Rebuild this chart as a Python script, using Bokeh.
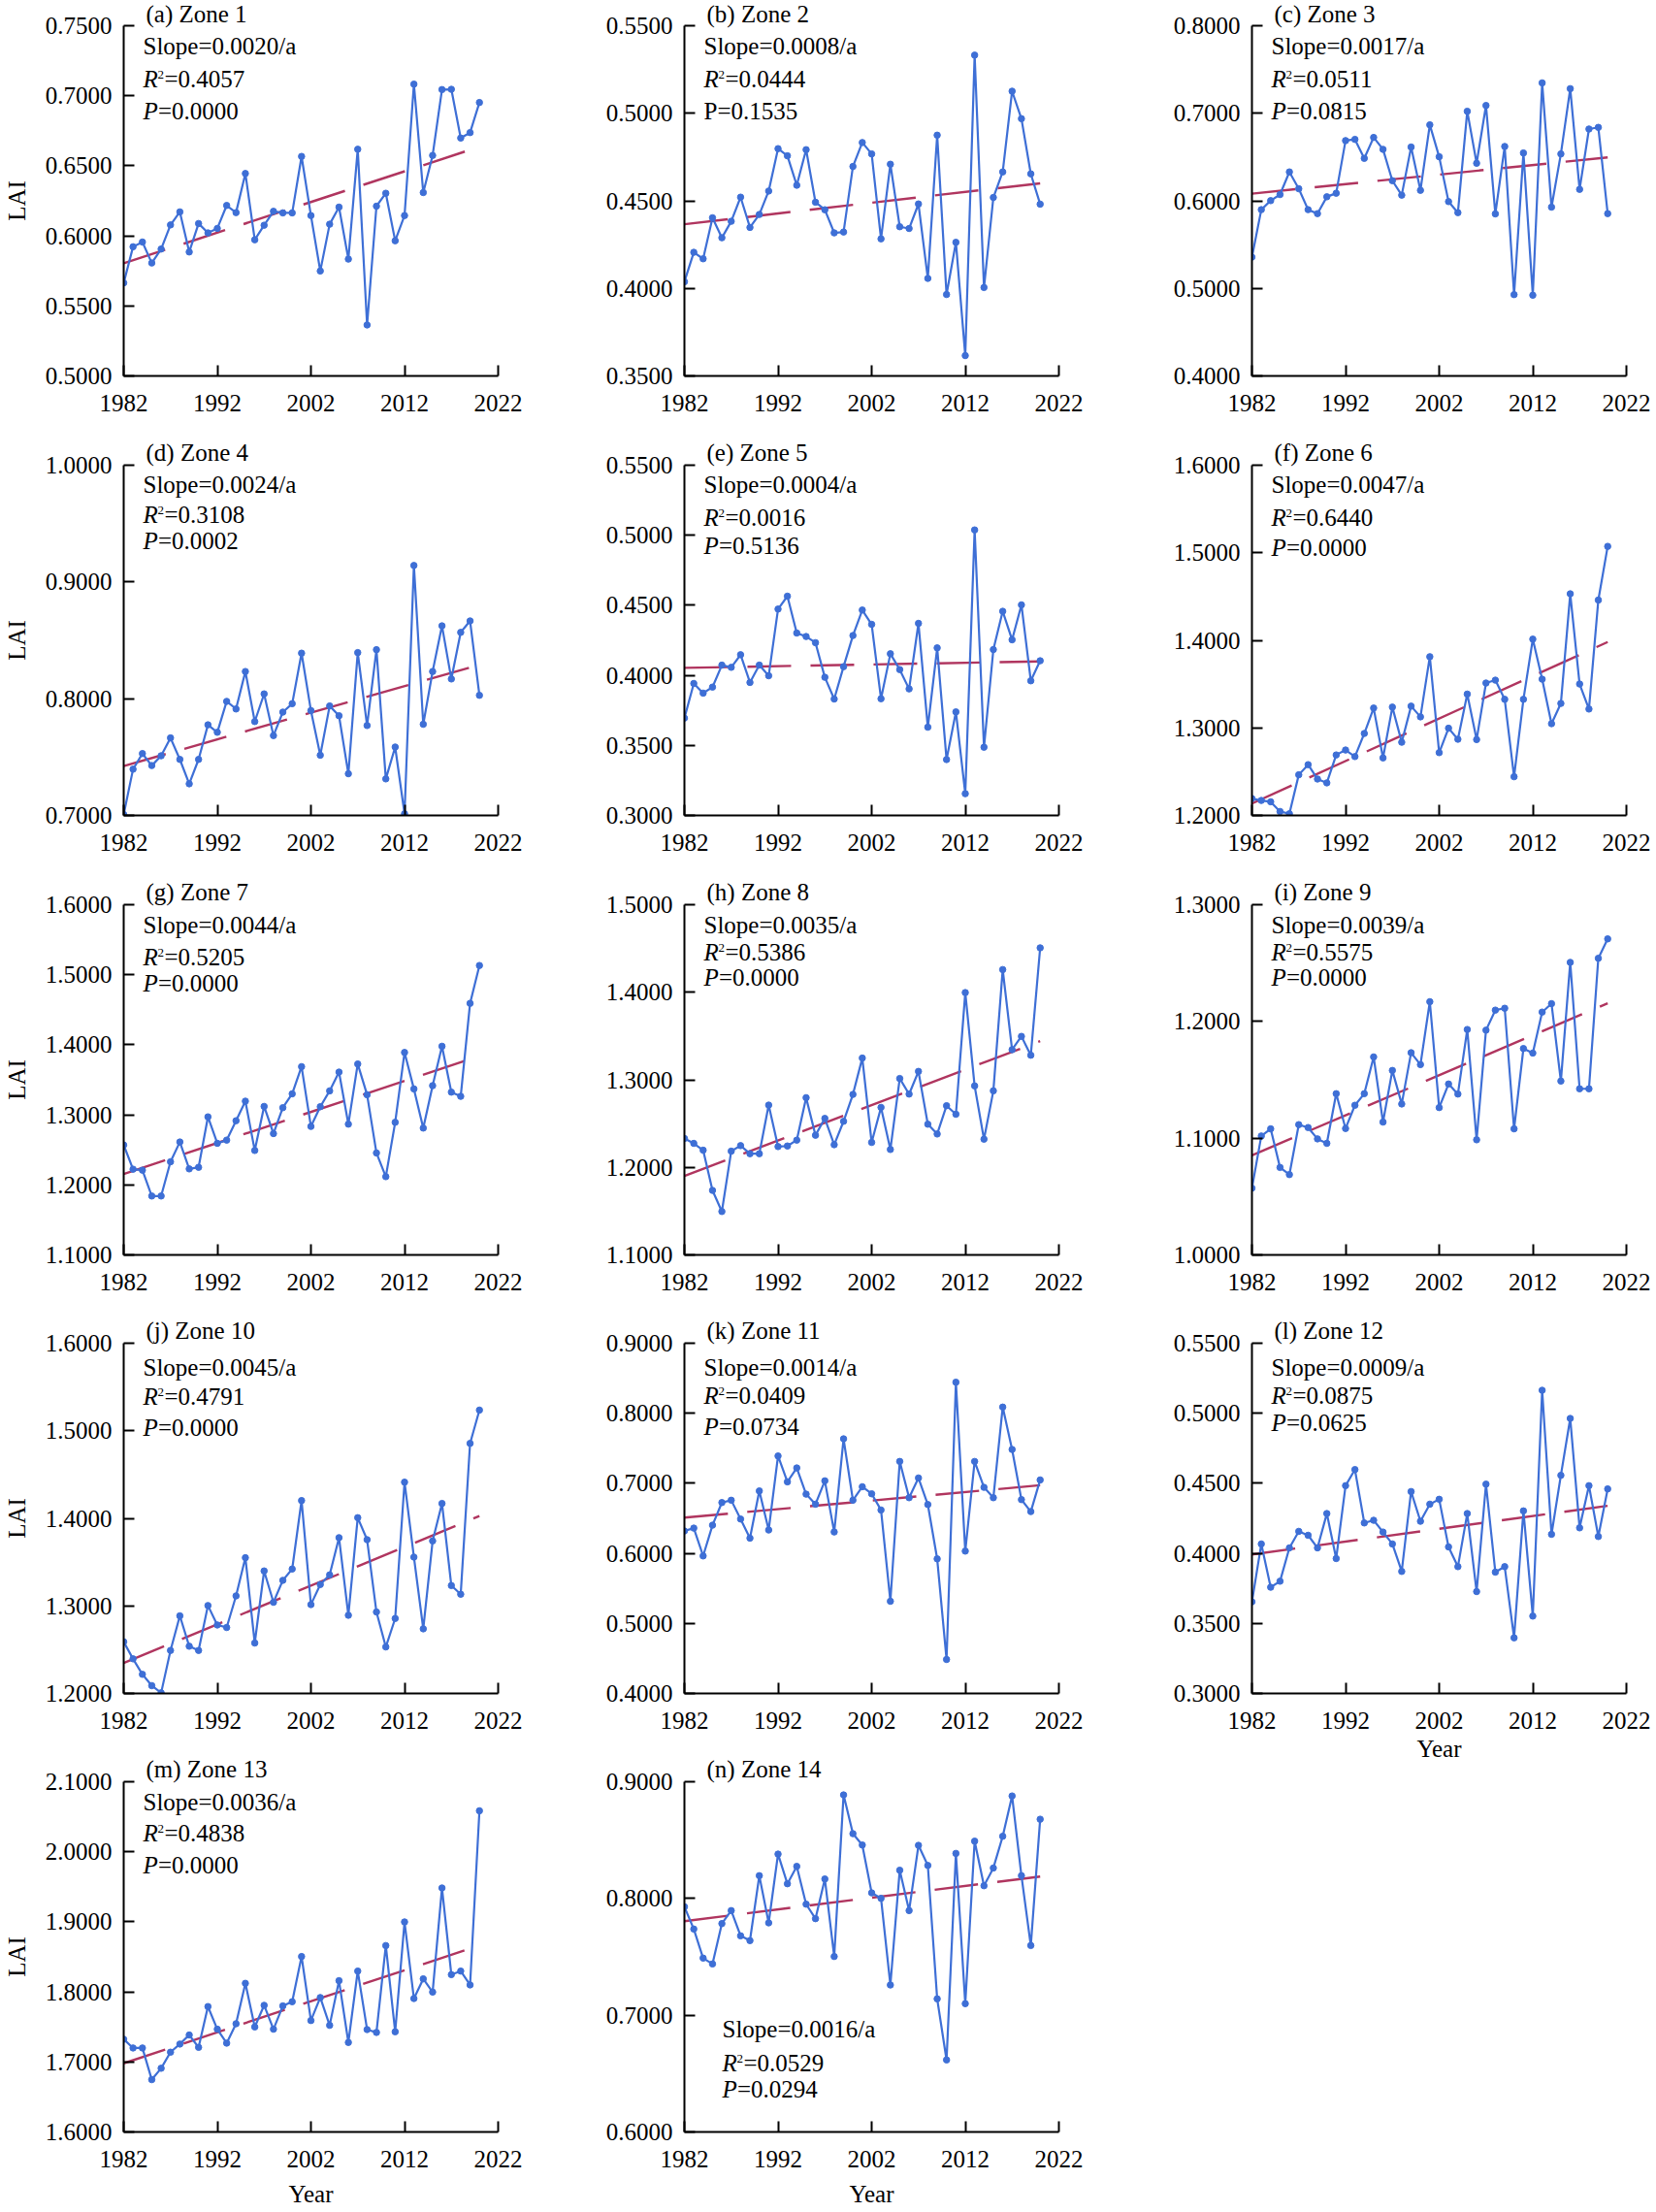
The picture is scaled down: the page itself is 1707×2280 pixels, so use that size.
import numpy as np
from bokeh.plotting import figure
from bokeh.models import Range1d, FixedTicker, PrintfTickFormatter, Label
from bokeh.layouts import row, column
from bokeh.embed import file_html
from bokeh.resources import INLINE

# ---------------- data ----------------
years = list(range(1982, 2021))

lai_zone1 = [0.5664, 0.5922, 0.5956, 0.5806, 0.5906, 0.6078, 0.6171, 0.5885, 0.6088, 0.6021,
             0.6053, 0.6217, 0.6166, 0.6445, 0.5972, 0.6076, 0.6175, 0.6164, 0.6164, 0.6567,
             0.6145, 0.5749, 0.6083, 0.6205, 0.5834, 0.6618, 0.5364, 0.6212, 0.6304, 0.5965,
             0.6145, 0.7083, 0.6309, 0.6574, 0.7044, 0.7046, 0.6698, 0.6737, 0.6952]
lai_zone2 = [0.4038, 0.4206, 0.4169, 0.4403, 0.4289, 0.4383, 0.4521, 0.4348, 0.4422, 0.4556,
             0.4798, 0.4757, 0.4589, 0.4792, 0.4492, 0.4449, 0.4317, 0.4322, 0.4696, 0.4833,
             0.4768, 0.4283, 0.4709, 0.4352, 0.4342, 0.4482, 0.4057, 0.4875, 0.3965, 0.4263,
             0.3616, 0.5332, 0.4005, 0.4519, 0.4665, 0.5126, 0.4969, 0.4654, 0.4481]
lai_zone3 = [0.5357, 0.5899, 0.6002, 0.6072, 0.6330, 0.6138, 0.5899, 0.5854, 0.6046, 0.6087,
             0.6688, 0.6702, 0.6485, 0.6724, 0.6588, 0.6230, 0.6065, 0.6614, 0.6120, 0.6868,
             0.6503, 0.5991, 0.5865, 0.7023, 0.6429, 0.7089, 0.5851, 0.6621, 0.4929, 0.6547,
             0.4922, 0.7347, 0.5928, 0.6536, 0.7281, 0.6131, 0.6820, 0.6839, 0.5854]
lai_zone4 = [0.7008, 0.7396, 0.7530, 0.7427, 0.7511, 0.7664, 0.7480, 0.7271, 0.7480, 0.7776,
             0.7712, 0.7977, 0.7912, 0.8233, 0.7804, 0.8041, 0.7684, 0.7885, 0.7957, 0.8390,
             0.7898, 0.7516, 0.7938, 0.7854, 0.7357, 0.8395, 0.7770, 0.8420, 0.7313, 0.7586,
             0.7014, 0.9141, 0.7781, 0.8233, 0.8624, 0.8169, 0.8568, 0.8666, 0.8029]
lai_zone5 = [0.3695, 0.3942, 0.3873, 0.3916, 0.4073, 0.4057, 0.4147, 0.3949, 0.4073, 0.3997,
             0.4473, 0.4565, 0.4302, 0.4277, 0.4233, 0.3986, 0.3831, 0.4062, 0.4284, 0.4466,
             0.4364, 0.3833, 0.4154, 0.4041, 0.3903, 0.4371, 0.3630, 0.4196, 0.3399, 0.3739,
             0.3155, 0.5038, 0.3487, 0.4184, 0.4457, 0.4254, 0.4503, 0.3961, 0.4104]
lai_zone6 = [1.2193, 1.2171, 1.2156, 1.2045, 1.2019, 1.2464, 1.2580, 1.2416, 1.2372, 1.2691,
             1.2747, 1.2672, 1.2936, 1.3226, 1.2657, 1.3237, 1.2836, 1.3248, 1.3126, 1.3813,
             1.2717, 1.2996, 1.2870, 1.3386, 1.2866, 1.3512, 1.3545, 1.3326, 1.2442, 1.3326,
             1.4013, 1.3556, 1.3048, 1.3279, 1.4531, 1.3501, 1.3215, 1.4460, 1.5073]
lai_zone7 = [1.2570, 1.2224, 1.2210, 1.1841, 1.1841, 1.2330, 1.2612, 1.2228, 1.2251, 1.2971,
             1.2593, 1.2639, 1.2916, 1.3195, 1.2491, 1.3120, 1.2732, 1.3102, 1.3300, 1.3688,
             1.2834, 1.3116, 1.3342, 1.3610, 1.2867, 1.3726, 1.3287, 1.2456, 1.2117, 1.2893,
             1.3890, 1.3370, 1.2811, 1.3416, 1.3979, 1.3324, 1.3264, 1.4592, 1.5132]
lai_zone8 = [1.2330, 1.2274, 1.2196, 1.1737, 1.1496, 1.2185, 1.2248, 1.2156, 1.2156, 1.2711,
             1.2237, 1.2244, 1.2311, 1.2796, 1.2367, 1.2559, 1.2259, 1.2526, 1.2833, 1.3248,
             1.2285, 1.2685, 1.2204, 1.3015, 1.2837, 1.3096, 1.2493, 1.2381, 1.2704, 1.2607,
             1.3996, 1.2930, 1.2322, 1.2874, 1.4259, 1.3344, 1.3496, 1.3281, 1.4507]
lai_zone9 = [1.0572, 1.1019, 1.1080, 1.0749, 1.0688, 1.1116, 1.1091, 1.0994, 1.0956, 1.1381,
             1.1083, 1.1282, 1.1381, 1.1696, 1.1138, 1.1580, 1.1293, 1.1732, 1.1630, 1.2169,
             1.1262, 1.1464, 1.1378, 1.1931, 1.0986, 1.1925, 1.2097, 1.2113, 1.1080, 1.1768,
             1.1729, 1.2080, 1.2152, 1.1489, 1.2506, 1.1423, 1.1423, 1.2541, 1.2707]
lai_zone10 = [1.2590, 1.2395, 1.2218, 1.2089, 1.2007, 1.2491, 1.2886, 1.2539, 1.2491, 1.3004,
              1.2782, 1.2753, 1.3114, 1.3550, 1.2576, 1.3399, 1.3041, 1.3292, 1.3421, 1.4203,
              1.3015, 1.3244, 1.3354, 1.3779, 1.2893, 1.4007, 1.3756, 1.2930, 1.2531, 1.2856,
              1.4413, 1.3557, 1.2738, 1.3742, 1.4170, 1.3232, 1.3133, 1.4856, 1.5236]
lai_zone11 = [0.6319, 0.6360, 0.5963, 0.6402, 0.6725, 0.6758, 0.6490, 0.6217, 0.6891, 0.6333,
              0.7390, 0.7021, 0.7219, 0.6845, 0.6702, 0.7035, 0.6305, 0.7635, 0.6758, 0.6951,
              0.6850, 0.6619, 0.5316, 0.7312, 0.6794, 0.7076, 0.6697, 0.5921, 0.4485, 0.8443,
              0.6032, 0.7312, 0.6942, 0.6794, 0.8088, 0.7483, 0.6767, 0.6596, 0.7048]
lai_zone12 = [0.3654, 0.4067, 0.3758, 0.3801, 0.4039, 0.4157, 0.4129, 0.4039, 0.4284, 0.3963,
              0.4483, 0.4598, 0.4217, 0.4236, 0.4152, 0.4067, 0.3871, 0.4441, 0.4229, 0.4351,
              0.4386, 0.4046, 0.3905, 0.4284, 0.3727, 0.4494, 0.3866, 0.3905, 0.3397, 0.4303,
              0.3552, 0.5164, 0.4136, 0.4557, 0.4963, 0.4182, 0.4483, 0.4120, 0.4460]
lai_zone13 = [1.7324, 1.7199, 1.7199, 1.6747, 1.6909, 1.7139, 1.7255, 1.7384, 1.7208, 1.7790,
              1.7467, 1.7268, 1.7545, 1.8122, 1.7499, 1.7808, 1.7467, 1.7799, 1.7859, 1.8505,
              1.7591, 1.7919, 1.7522, 1.8159, 1.7278, 1.8297, 1.7462, 1.7421, 1.8661, 1.7430,
              1.8998, 1.7905, 1.8186, 1.7997, 1.9483, 1.8246, 1.8297, 1.8099, 2.0585]
lai_zone14 = [0.7929, 0.7738, 0.7489, 0.7439, 0.7785, 0.7896, 0.7680, 0.7639, 0.8195, 0.7791,
              0.8380, 0.8126, 0.8275, 0.7951, 0.7827, 0.8167, 0.7503, 0.8887, 0.8555, 0.8458,
              0.8048, 0.8001, 0.7259, 0.8242, 0.7896, 0.8455, 0.8283, 0.7140, 0.6617, 0.8386,
              0.7099, 0.8491, 0.8109, 0.8261, 0.8533, 0.8878, 0.8195, 0.7597, 0.8679]

zone_titles = ["(a) Zone 1", "(b) Zone 2", "(c) Zone 3", "(d) Zone 4", "(e) Zone 5",
               "(f) Zone 6", "(g) Zone 7", "(h) Zone 8", "(i) Zone 9", "(j) Zone 10",
               "(k) Zone 11", "(l) Zone 12", "(m) Zone 13", "(n) Zone 14"]
slope_text = ["0.0020", "0.0008", "0.0017", "0.0024", "0.0004", "0.0047", "0.0044",
              "0.0035", "0.0039", "0.0045", "0.0014", "0.0009", "0.0036", "0.0016"]
r2_text = ["0.4057", "0.0444", "0.0511", "0.3108", "0.0016", "0.6440", "0.5205",
           "0.5386", "0.5575", "0.4791", "0.0409", "0.0875", "0.4838", "0.0529"]
p_text = ["0.0000", "0.1535", "0.0815", "0.0002", "0.5136", "0.0000", "0.0000",
          "0.0000", "0.0000", "0.0000", "0.0734", "0.0625", "0.0000", "0.0294"]
p_italic = [True, False, True, True, True, True, True, True, True, True, True, True, True, True]

y_min = [0.50, 0.35, 0.40, 0.70, 0.30, 1.20, 1.10, 1.10, 1.00, 1.20, 0.40, 0.30, 1.60, 0.60]
y_max = [0.75, 0.55, 0.80, 1.00, 0.55, 1.60, 1.60, 1.50, 1.30, 1.60, 0.90, 0.55, 2.10, 0.90]
y_step = [0.05, 0.05, 0.10, 0.10, 0.05, 0.10, 0.10, 0.10, 0.10, 0.10, 0.10, 0.05, 0.10, 0.10]

x_ticks = [1982, 1992, 2002, 2012, 2022]

all_series = [lai_zone1, lai_zone2, lai_zone3, lai_zone4, lai_zone5, lai_zone6, lai_zone7,
              lai_zone8, lai_zone9, lai_zone10, lai_zone11, lai_zone12, lai_zone13, lai_zone14]

# ---------------- style / layout ----------------
FONT = "Liberation Serif"
FS = 25
BLUE = "#3E6FD6"
TREND = "#B0355F"
FW, FH = 386, 361
LEFT_BORDER = [126, 118, 118]
RIGHT_BORDER = [74, 81, 32]
# vertical offsets (px below frame top) of Slope / R2 / P lines
stat_offsets = [(23, 57, 90), (23, 57, 90), (23, 57, 90),
                (22, 53, 80), (22, 56, 85), (22, 56, 87),
                (23, 56, 83), (23, 51, 77), (23, 51, 77),
                (27, 57, 89), (27, 56, 88), (27, 56, 84),
                (23, 55, 88), (257, 292, 319)]
STAT_LIFT = 2


def add_text(p, x, y, text, size=FS, style="normal", align="left", baseline="middle"):
    p.add_layout(Label(x=x, y=y, x_units="screen", y_units="screen", text=text,
                       text_font=FONT, text_font_size=f"{size}px",
                       text_font_style=style, text_align=align,
                       text_baseline=baseline, text_color="black"))


def make_panel(i):
    col = i % 3
    r = i // 3
    last_in_col = (i + 3) >= 14
    top = 25 if r == 0 else 37
    if r == 4:
        bottom = 84
    elif last_in_col:
        bottom = 80
    elif r <= 1:
        bottom = 55
    else:
        bottom = 54
    vals = all_series[i]
    p = figure(frame_width=FW, frame_height=FH,
               x_range=Range1d(1982, 2022),
               y_range=Range1d(y_min[i], y_max[i]),
               output_backend="svg", toolbar_location=None,
               min_border_left=LEFT_BORDER[col], min_border_right=RIGHT_BORDER[col],
               min_border_top=top, min_border_bottom=bottom,
               background_fill_color="white", border_fill_color="white")
    p.outline_line_color = None
    p.xgrid.visible = False
    p.ygrid.visible = False

    # panel title above the frame
    p.title.text = zone_titles[i]
    p.title.align = "left"
    p.title.offset = 23
    p.title.standoff = -3 if r == 0 else 0
    p.title.text_font = FONT
    p.title.text_font_size = f"{FS}px"
    p.title.text_font_style = "normal"
    p.title.text_color = "black"

    nt = int(round((y_max[i] - y_min[i]) / y_step[i]))
    yt = [round(y_min[i] + k * y_step[i], 4) for k in range(nt + 1)]
    p.yaxis.ticker = FixedTicker(ticks=yt)
    p.yaxis.formatter = PrintfTickFormatter(format="%.4f")
    p.xaxis.ticker = FixedTicker(ticks=x_ticks)
    for ax in (p.xaxis, p.yaxis):
        ax.axis_line_width = 2
        ax.axis_line_color = "black"
        ax.major_tick_line_width = 2
        ax.major_tick_line_color = "black"
        ax.major_tick_in = 11
        ax.major_tick_out = 0
        ax.minor_tick_in = 0
        ax.minor_tick_out = 0
        ax.major_label_text_font = FONT
        ax.major_label_text_font_size = f"{FS}px"
        ax.major_label_text_color = "black"
        ax.axis_label_text_font = FONT
        ax.axis_label_text_font_size = f"{FS}px"
        ax.axis_label_text_font_style = "normal"
        ax.axis_label_text_color = "black"
    p.xaxis.major_label_standoff = 19
    p.yaxis.major_label_standoff = 12

    if col == 0:
        p.yaxis.axis_label = "LAI"
        p.yaxis.axis_label_standoff = 13
    if i in (11, 12, 13):
        p.xaxis.axis_label = "Year"
        p.xaxis.axis_label_standoff = 4 if i == 11 else 11

    # trend line from least squares fit of the series
    slope, inter = np.polyfit(np.array(years, dtype=float), np.array(vals), 1)
    tx = [years[0], years[-1]]
    ty = [inter + slope * years[0], inter + slope * years[-1]]
    p.line(tx, ty, line_color=TREND, line_width=2.4, line_dash="45 20")

    p.line(years, vals, line_color=BLUE, line_width=2.2)
    p.scatter(years, vals, size=6.5, color=BLUE)

    # statistics texts
    x0 = 39 if i == 13 else 20
    o1, o2, o3 = stat_offsets[i]
    y1 = FH - o1 + STAT_LIFT
    y2 = FH - o2 + STAT_LIFT
    y3 = FH - o3 + STAT_LIFT
    add_text(p, x0, y1, f"Slope={slope_text[i]}/a")
    add_text(p, x0, y2, "R", style="italic")
    add_text(p, x0 + 15, y2 + 5, "2", size=13)
    add_text(p, x0 + 22, y2, f"={r2_text[i]}")
    if p_italic[i]:
        add_text(p, x0, y3, "P", style="italic")
        add_text(p, x0 + 15.5, y3, f"={p_text[i]}")
    else:
        add_text(p, x0, y3, f"P={p_text[i]}")
    return p


panels = [make_panel(i) for i in range(14)]
cols = [column(*[panels[i] for i in range(c, 14, 3)]) for c in range(3)]
layout = row(*cols)

open("out.html", "w").write(file_html(layout, INLINE))
